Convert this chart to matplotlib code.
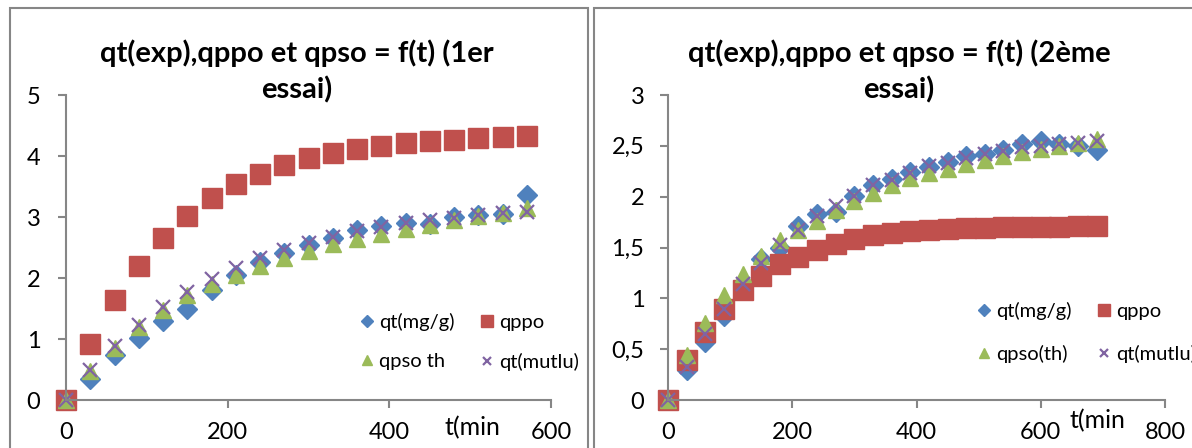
import matplotlib
matplotlib.use("Agg")
import matplotlib.pyplot as plt
from matplotlib.patches import Rectangle

plt.rcParams['font.family'] = ['Lato', 'DejaVu Sans']

# ---------------- data: 1er essai ----------------
t1 = [0, 30, 60, 90, 120, 150, 180, 210, 240, 270, 300, 330, 360, 390, 420, 450, 480, 510, 540, 570]
qt1 = [0, 0.35, 0.73, 1.02, 1.29, 1.49, 1.80, 2.05, 2.26, 2.41, 2.54, 2.66, 2.78, 2.86, 2.90, 2.89, 3.00, 3.04, 3.05, 3.36]
qppo1 = [0, 0.92, 1.64, 2.19, 2.66, 3.02, 3.31, 3.54, 3.70, 3.85, 3.96, 4.05, 4.11, 4.16, 4.21, 4.25, 4.27, 4.30, 4.31, 4.32]
qpso1 = [0, 0.48, 0.86, 1.20, 1.48, 1.72, 1.90, 2.05, 2.20, 2.33, 2.45, 2.55, 2.64, 2.72, 2.80, 2.87, 2.95, 3.01, 3.07, 3.15]
qmut1 = [0, 0.50, 0.88, 1.23, 1.52, 1.77, 1.98, 2.16, 2.32, 2.46, 2.58, 2.68, 2.77, 2.84, 2.90, 2.95, 2.99, 3.03, 3.06, 3.09]

# ---------------- data: 2eme essai ----------------
t2 = [0, 30, 60, 90, 120, 150, 180, 210, 240, 270, 300, 330, 360, 390, 420, 450, 480, 510, 540, 570, 600, 630, 660, 690]
qt2 = [0, 0.30, 0.57, 0.83, 1.14, 1.39, 1.50, 1.71, 1.83, 1.85, 2.01, 2.11, 2.17, 2.24, 2.29, 2.34, 2.40, 2.42, 2.46, 2.52, 2.55, 2.52, 2.50, 2.46]
qppo2 = [0, 0.39, 0.67, 0.90, 1.08, 1.22, 1.34, 1.41, 1.48, 1.53, 1.58, 1.62, 1.64, 1.66, 1.67, 1.68, 1.69, 1.69, 1.70, 1.70, 1.70, 1.70, 1.71, 1.71]
qpso2 = [0, 0.44, 0.76, 1.03, 1.24, 1.42, 1.57, 1.67, 1.76, 1.87, 1.96, 2.04, 2.11, 2.18, 2.23, 2.27, 2.32, 2.36, 2.40, 2.44, 2.47, 2.50, 2.53, 2.57]
qmut2 = [0, 0.32, 0.65, 0.90, 1.14, 1.35, 1.52, 1.67, 1.81, 1.91, 2.01, 2.11, 2.16, 2.23, 2.30, 2.33, 2.38, 2.42, 2.45, 2.49, 2.50, 2.52, 2.53, 2.55]

ticks1_y = [0, 1, 2, 3, 4, 5]
ticklabels1_y = ['0', '1', '2', '3', '4', '5']
ticks1_x = [0, 200, 400, 600]
ticks2_y = [0, 0.5, 1, 1.5, 2, 2.5, 3]
ticklabels2_y = ['0', '0,5', '1', '1,5', '2', '2,5', '3']
ticks2_x = [0, 200, 400, 600, 800]

labels1 = ['qt(mg/g)', 'qppo', 'qpso th', 'qt(mutlu)']
labels2 = ['qt(mg/g)', 'qppo', 'qpso(th)', 'qt(mutlu)']
title1 = ['qt(exp),qppo et qpso = f(t) (1er', 'essai)']
title2 = ['qt(exp),qppo et qpso = f(t) (2ème', 'essai)']
xlabel = 't(min'

BLUE = '#4F81BD'
RED = '#C0504D'
GREEN = '#9BBB59'
PURPLE = '#8064A2'
GRAY = '#868686'

W, H = 1192, 448
fig = plt.figure(figsize=(W / 100, H / 100), dpi=100)
fig.patch.set_facecolor('white')


def fx(px):
    return px / W


def fy(py):
    return 1 - py / H


# panel frames
fig.add_artist(Rectangle((fx(10), fy(470)), fx(578), (470 - 8) / H, transform=fig.transFigure,
                         fill=False, edgecolor=GRAY, lw=1.5))
fig.add_artist(Rectangle((fx(594), fy(470)), fx(650), (470 - 8) / H, transform=fig.transFigure,
                         fill=False, edgecolor=GRAY, lw=1.5))


def make_axes(rect, x, series, labels, xlim, ylim, xticks, yticks, yticklabels, ypad):
    ax = fig.add_axes(rect)
    ax.set_facecolor('none')
    qt, qppo, qpso, qmut = series
    h0, = ax.plot(x, qt, ls='none', marker='D', ms=10, color=BLUE, mec=BLUE, label=labels[0], clip_on=False)
    h1, = ax.plot(x, qppo, ls='none', marker='s', ms=14.5, color=RED, mec=RED, label=labels[1], clip_on=False)
    h2, = ax.plot(x, qpso, ls='none', marker='^', ms=11.5, color=GREEN, mec=GREEN, label=labels[2], clip_on=False)
    h3, = ax.plot(x, qmut, ls='none', marker='x', ms=10, mew=1.6, color=PURPLE, label=labels[3], clip_on=False)
    ax.set_xlim(*xlim)
    ax.set_ylim(*ylim)
    ax.set_xticks(xticks)
    ax.set_yticks(yticks)
    ax.set_yticklabels(yticklabels)
    for s in ['top', 'right']:
        ax.spines[s].set_visible(False)
    for s in ['left', 'bottom']:
        ax.spines[s].set_color(GRAY)
        ax.spines[s].set_linewidth(1.5)
    ax.tick_params(axis='both', direction='out', length=5.5, width=1.5, color=GRAY,
                   labelsize=17, labelcolor='black')
    ax.tick_params(axis='x', pad=10)
    ax.tick_params(axis='y', pad=ypad)
    return ax, [h0, h2, h1, h3]


ax1, hs1 = make_axes([fx(66), fy(400), fx(485), 305 / H], t1, (qt1, qppo1, qpso1, qmut1), labels1,
                     (0, 600), (0, 5), ticks1_x, ticks1_y, ticklabels1_y, 13)
ax2, hs2 = make_axes([fx(668), fy(400), fx(497), 305 / H], t2, (qt2, qppo2, qpso2, qmut2), labels2,
                     (0, 800), (0, 3), ticks2_x, ticks2_y, ticklabels2_y, 11.5)

# titles
for cx, lines in [(297, title1), (899, title2)]:
    fig.text(fx(cx), fy(62), lines[0], ha='center', va='baseline', fontsize=21, fontweight='bold')
    fig.text(fx(cx), fy(98), lines[1], ha='center', va='baseline', fontsize=21, fontweight='bold')

# axis titles
fig.text(fx(445), fy(428), xlabel, ha='left', va='center', fontsize=18)
fig.text(fx(1070), fy(421), xlabel, ha='left', va='center', fontsize=18)

# legends (row order: qt, qppo / qpso, mutlu)
for ax, hs, anchor, ls in [(ax1, hs1, (361, 313), 1.1), (ax2, hs2, (978, 302), 1.25)]:
    ax.legend(handles=hs, loc='upper left', bbox_to_anchor=(fx(anchor[0]), fy(anchor[1])),
              bbox_transform=fig.transFigure, ncol=2, frameon=False, fontsize=14.5,
              handlelength=0.6, handletextpad=0.3, columnspacing=1.3, labelspacing=ls,
              borderpad=0, borderaxespad=0, markerscale=0.6)

fig.savefig('out.png', dpi=100)
